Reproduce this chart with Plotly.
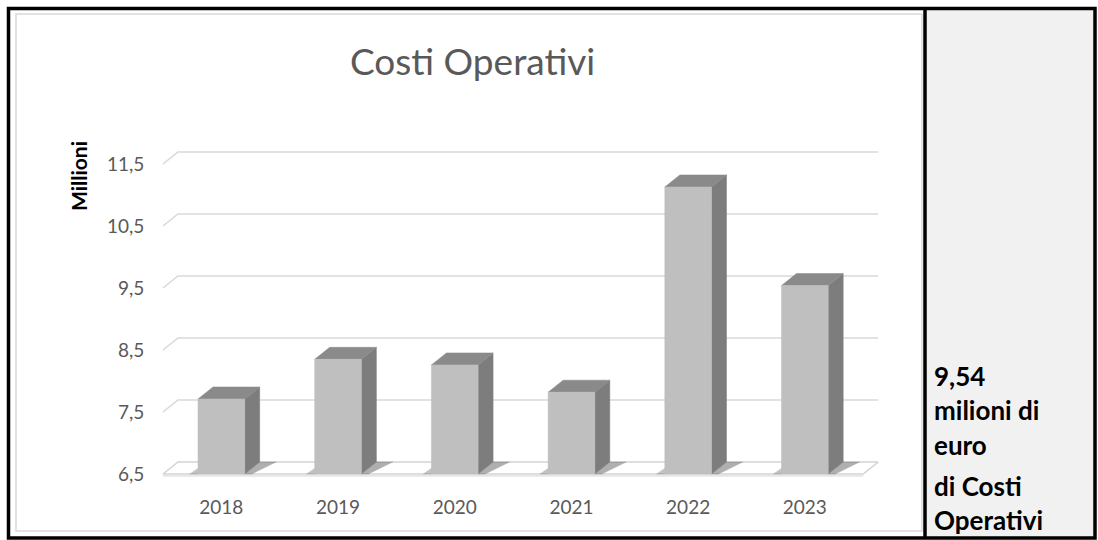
import plotly.graph_objects as go

# --- data ---
years = ["2018", "2019", "2020", "2021", "2022", "2023"]
costs = [7.71, 8.35, 8.26, 7.82, 11.13, 9.54]          # milioni di euro
y_ticks = [6.5, 7.5, 8.5, 9.5, 10.5, 11.5]
y_tick_labels = ["6,5", "7,5", "8,5", "9,5", "10,5", "11,5"]
side_lines = ["9,54", "milioni di", "euro", "di Costi", "Operativi"]

# --- page geometry (pixels) ---
W, H = 1098, 540
FLOOR = 6.5
CAT_PX = 116.7          # pixels per category on the front plane
X_LEFT_PX = 163         # front plane x = -0.5
UNIT_PX = 62.0          # pixels per value unit
Y_FLOOR_PX = 474        # front plane y = 6.5
X_RANGE = [-0.6, 5.65]
Y_RANGE = [6.3, 11.8]

DX = 15 / CAT_PX        # depth offset, category units
DY = 12 / UNIT_PX       # depth offset, value units
BAR_W = 0.40

FONT = "Lato"
GREY_TXT = "#595959"


def px(x):
    return x / W


def py(y):
    return 1 - y / H


x_dom = [px(X_LEFT_PX + (X_RANGE[0] + 0.5) * CAT_PX),
         px(X_LEFT_PX + (X_RANGE[1] + 0.5) * CAT_PX)]
y_dom = [py(Y_FLOOR_PX - (Y_RANGE[0] - FLOOR) * UNIT_PX),
         py(Y_FLOOR_PX - (Y_RANGE[1] - FLOOR) * UNIT_PX)]

fig = go.Figure()

# back-wall gridlines with the short slanted side-wall segment
gx, gy = [], []
for t in y_ticks[1:]:
    gx += [-0.5, -0.5 + DX, 5.5 + DX, None]
    gy += [t, t + DY, t + DY, None]
fig.add_trace(go.Scatter(x=gx, y=gy, mode="lines",
                         line=dict(color="#d9d9d9", width=1.6),
                         hoverinfo="skip", showlegend=False))

# floor
fig.add_trace(go.Scatter(
    x=[-0.5, 5.5, 5.5 + DX, -0.5 + DX, -0.5],
    y=[FLOOR, FLOOR, FLOOR + DY, FLOOR + DY, FLOOR],
    mode="lines", fill="toself", fillcolor="#ffffff",
    line=dict(color="#d4d4d4", width=1.6),
    hoverinfo="skip", showlegend=False))
fig.add_trace(go.Scatter(x=[-0.5, 5.5], y=[FLOOR - 0.03, FLOOR - 0.03],
                         mode="lines", line=dict(color="#e6e6e6", width=2),
                         hoverinfo="skip", showlegend=False))


def poly(xs, ys, color, opacity=1.0):
    fig.add_trace(go.Scatter(
        x=xs + [xs[0]], y=ys + [ys[0]], mode="lines", fill="toself",
        fillcolor=color, line=dict(color=color, width=0.5), opacity=opacity,
        hoverinfo="skip", showlegend=False))


# 3-D columns
for i, v in enumerate(costs):
    x0, x1 = i - BAR_W / 2, i + BAR_W / 2
    # contact shadows on the floor
    poly([x1, x1 + DX, x1 + DX + 0.14, x1 + 0.06],
         [FLOOR, FLOOR + DY, FLOOR + DY, FLOOR], "#6e6e6e", 0.55)
    poly([x0 - 0.07, x0, x0 + DX, x0 + DX - 0.05],
         [FLOOR, FLOOR, FLOOR + DY, FLOOR + DY], "#7a7a7a", 0.45)
    # side face
    poly([x1, x1 + DX, x1 + DX, x1],
         [FLOOR, FLOOR + DY, v + DY, v], "#7d7d7d")
    # top face
    poly([x0, x1, x1 + DX, x0 + DX],
         [v, v, v + DY, v + DY], "#8a8a8a")
    # front face
    poly([x0, x1, x1, x0],
         [FLOOR, FLOOR, v, v], "#bfbfbf")

# frames and the right-hand cell
shapes = [
    # chart area border
    dict(type="rect", xref="paper", yref="paper",
         x0=px(16), y0=py(531), x1=px(922), y1=py(14),
         line=dict(color="#d9d9d9", width=1.5), layer="below"),
    # right cell background
    dict(type="rect", xref="paper", yref="paper",
         x0=px(926), y0=py(537), x1=px(1094), y1=py(10),
         fillcolor="#f1f1f1", line=dict(width=0), layer="below"),
    # outer table border
    dict(type="rect", xref="paper", yref="paper",
         x0=px(8.5), y0=py(538), x1=px(1095), y1=py(8.5),
         line=dict(color="#000000", width=3.5)),
    # cell divider
    dict(type="line", xref="paper", yref="paper",
         x0=px(925), y0=py(538), x1=px(925), y1=py(8.5),
         line=dict(color="#000000", width=3.5)),
]

annotations = [
    dict(text="Costi Operativi", x=px(472), y=py(60), xref="paper", yref="paper",
         showarrow=False, xanchor="center", yanchor="middle",
         font=dict(family=FONT, size=37, color=GREY_TXT)),
    dict(text="<b>Millioni</b>", x=px(78), y=py(176), xref="paper", yref="paper",
         showarrow=False, textangle=-90, xanchor="center", yanchor="middle",
         font=dict(family=FONT, size=21, color="#000000")),
]

side_y = [376, 410, 445, 486, 520]
for line_txt, yy in zip(side_lines, side_y):
    annotations.append(dict(
        text=f"<b>{line_txt}</b>", x=px(933), y=py(yy), xref="paper", yref="paper",
        showarrow=False, xanchor="left", yanchor="middle", borderpad=0,
        font=dict(family=FONT, size=26, color="#000000")))

fig.update_layout(
    width=W, height=H,
    margin=dict(l=0, r=0, t=0, b=0),
    paper_bgcolor="#ffffff", plot_bgcolor="rgba(0,0,0,0)",
    shapes=shapes, annotations=annotations,
    xaxis=dict(range=X_RANGE, domain=x_dom, tickvals=list(range(len(years))),
               ticktext=years, showgrid=False, zeroline=False, showline=False,
               ticks="", ticklabelstandoff=8, fixedrange=True,
               tickfont=dict(family=FONT, size=19, color=GREY_TXT)),
    yaxis=dict(range=Y_RANGE, domain=y_dom, tickvals=y_ticks,
               ticktext=y_tick_labels, showgrid=False, zeroline=False,
               showline=False, ticks="", ticklabelstandoff=6, fixedrange=True,
               tickfont=dict(family=FONT, size=19, color=GREY_TXT)),
    showlegend=False,
)

fig.write_html("out.html")
